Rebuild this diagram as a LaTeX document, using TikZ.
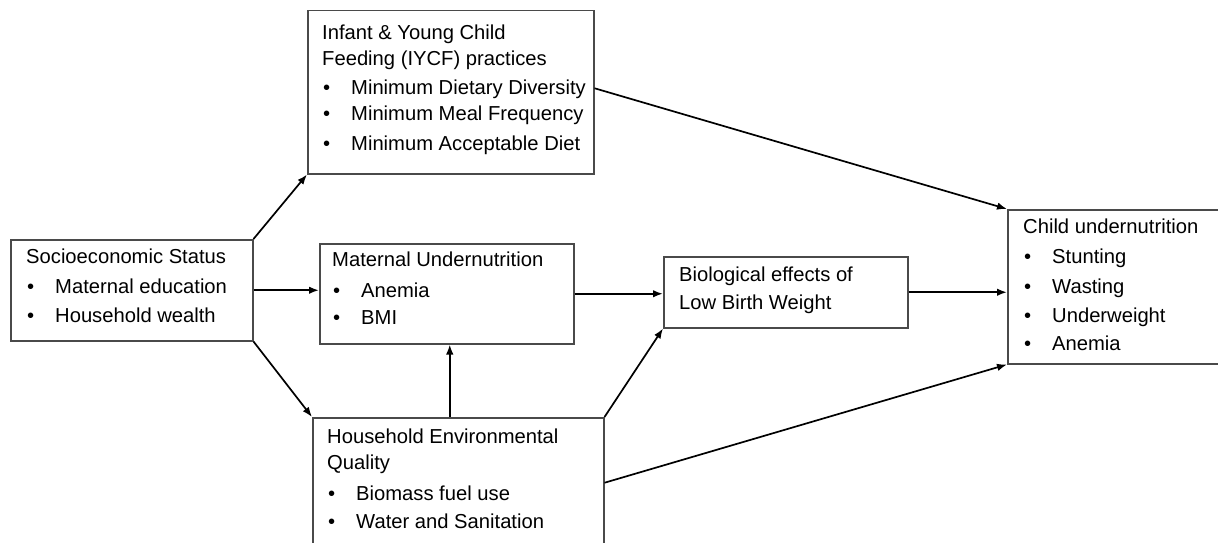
\documentclass[tikz,border=0pt]{standalone}
\usepackage{fontspec}
\setmainfont{Liberation Sans}
\usetikzlibrary{positioning,arrows.meta}
\definecolor{boxgray}{HTML}{4A4A4A}
\newcommand{\bitem}[1]{\hspace*{1pt}\makebox[28pt][l]{\textbullet}#1}

\tikzset{
  framebox/.style={draw=boxgray, line width=1.5pt, anchor=north west, inner sep=0pt},
  boxtext/.style={anchor=north west, align=left, inner sep=0pt, font=\fontsize{20.2}{26}\selectfont},
  link/.style={line width=1.7pt, -{Latex[length=10pt,width=7.5pt]}}
}

\begin{document}
\begin{tikzpicture}[x=1pt,y=-1pt]
\useasboundingbox (0,0) rectangle (1218,543);
\clip (0,0) rectangle (1218,543);
\node[framebox, minimum width=286pt, minimum height=163pt] (iycf) at (307,10) {};
\node[framebox, minimum width=242pt, minimum height=101pt] (ses) at (10,239) {};
\node[framebox, minimum width=254pt, minimum height=100pt] (mat) at (319,243) {};
\node[framebox, minimum width=244pt, minimum height=71pt] (bio) at (663,256) {};
\node[framebox, minimum width=225pt, minimum height=154pt] (child) at (1007,209) {};
\node[framebox, minimum width=291pt, minimum height=130pt] (house) at (312,417) {};

\node[boxtext, below right=15pt and 15pt of iycf.north west] (iycftext) {Infant \& Young Child\\Feeding (IYCF) practices\\[3pt]\bitem{Minimum Dietary Diversity}\\[0pt]\bitem{Minimum Meal Frequency}\\[4pt]\bitem{Minimum Acceptable Diet}};
\node[boxtext, below right=10pt and 16pt of ses.north west] (sestext) {Socioeconomic Status\\[4pt]\bitem{Maternal education}\\[3pt]\bitem{Household wealth}};
\node[boxtext, below right=9pt and 13pt of mat.north west] (mattext) {Maternal Undernutrition\\[5pt]\bitem{Anemia}\\[1pt]\bitem{BMI}};
\node[boxtext, below right=11pt and 16pt of bio.north west] (biotext) {Biological effects of\\[2pt]Low Birth Weight};
\node[boxtext, below right=10pt and 16pt of child.north west] (childtext) {Child undernutrition\\[4pt]\bitem{Stunting}\\[4pt]\bitem{Wasting}\\[3pt]\bitem{Underweight}\\[2pt]\bitem{Anemia}};
\node[boxtext, below right=12pt and 15pt of house.north west] (housetext) {Household Environmental\\Quality\\[5pt]\bitem{Biomass fuel use}\\[2pt]\bitem{Water and Sanitation}};

\draw[link] (ses.north east) -- (iycf.south west);
\draw[link] (ses.east) -- (ses.east -| mat.west);
\draw[link] (ses.south east) -- (house.north west);
\draw[link] ([xshift=3pt]mat.south |- house.north) -- ([xshift=3pt]mat.south);
\draw[link] (mat.east) -- (mat.east -| bio.west);
\draw[link] (house.north east) -- (bio.south west);
\draw[link] ([yshift=4pt]iycf.east) -- (child.north west);
\draw[link] (bio.east) -- (bio.east -| child.west);
\draw[link] (house.east) -- (child.south west);
\end{tikzpicture}
\end{document}
